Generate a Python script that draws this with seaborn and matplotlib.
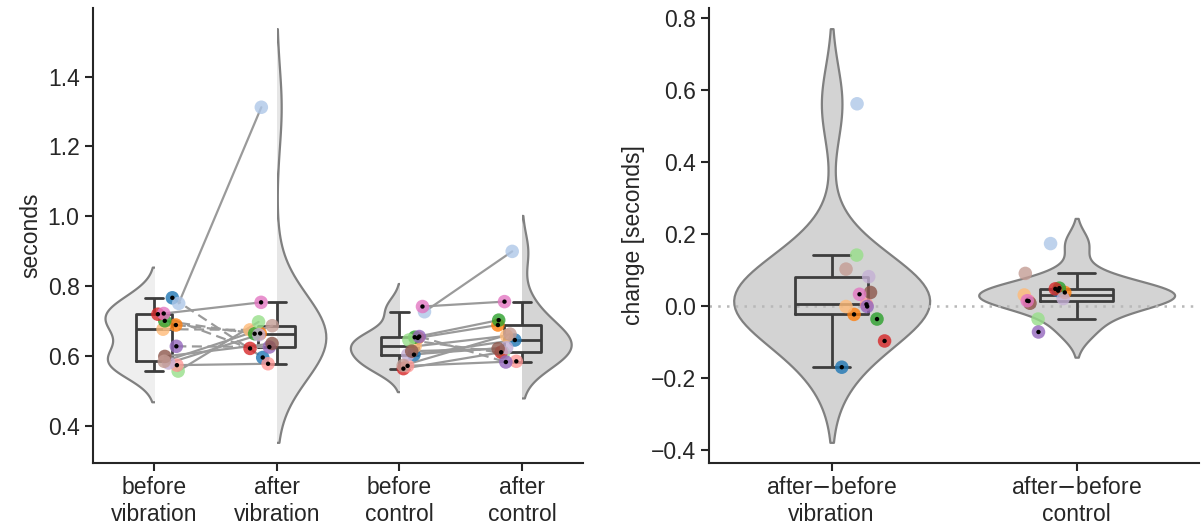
import numpy as np
import pandas as pd
import matplotlib
matplotlib.use("Agg")
import matplotlib.pyplot as plt
from matplotlib.patches import Rectangle
import seaborn as sns

# ---------------- data ----------------
subjects = [f"S{i + 1:02d}" for i in range(13)]
before_vibration = [0.766, 0.750, 0.688, 0.676, 0.700, 0.556, 0.719, 0.573, 0.627, 0.579, 0.598, 0.584, 0.721]
after_vibration = [0.595, 1.312, 0.664, 0.674, 0.663, 0.697, 0.621, 0.577, 0.625, 0.660, 0.635, 0.686, 0.753]
before_control = [0.603, 0.726, 0.651, 0.627, 0.653, 0.645, 0.563, 0.571, 0.655, 0.603, 0.613, 0.572, 0.741]
after_control = [0.645, 0.899, 0.688, 0.657, 0.702, 0.608, 0.610, 0.584, 0.582, 0.623, 0.620, 0.662, 0.755]
marked = [True, False, True, False, True, False, True, True, True, False, False, False, True]

conditions = ["before\nvibration", "after\nvibration", "before\ncontrol", "after\ncontrol"]
diff_labels = ["after$-$before\nvibration", "after$-$before\ncontrol"]

# ---------------- style ----------------
sns.set_theme(style="ticks")
plt.rcParams["font.family"] = ["Liberation Sans", "DejaVu Sans"]
plt.rcParams.update({
    "axes.linewidth": 1.5, "axes.edgecolor": "#262626",
    "xtick.major.width": 1.5, "ytick.major.width": 1.5,
    "xtick.major.size": 6, "ytick.major.size": 6,
    "xtick.labelsize": 16.5, "ytick.labelsize": 16.5, "axes.labelsize": 16.5,
    "xtick.color": "#262626", "ytick.color": "#262626", "text.color": "#262626",
    "axes.labelcolor": "#262626",
})

subj_pal = dict(zip(subjects, sns.color_palette("tab20", 20)[:13]))
violin_fills = dict(zip(conditions, ["#efefef", "#e6e6e6", "#dcdcdc", "#d5d5d5"]))
box_color = "#3d3d3d"
outline = "#808080"
line_gray = "#9a9a9a"

rng = np.random.default_rng(7)

fig = plt.figure(figsize=(12.03, 5.31), dpi=100)
ax1 = fig.add_axes([0.0771, 0.128, 0.4079, 0.857])
ax2 = fig.add_axes([0.5895, 0.128, 0.4073, 0.857])

# ---------------- left panel ----------------
values = [before_vibration, after_vibration, before_control, after_control]
long = pd.DataFrame({
    "subject": subjects * 4,
    "condition": np.repeat(conditions, len(subjects)),
    "seconds": np.concatenate(values),
    "marked": marked * 4,
})
pos = {c: i for i, c in enumerate(conditions)}
side = {conditions[0]: -1, conditions[1]: 1, conditions[2]: -1, conditions[3]: 1}
jit = np.concatenate([rng.uniform(0.03, 0.22, len(subjects)) for _ in conditions])
long["x"] = long["condition"].map(pos) - long["condition"].map(side) * jit

n0 = len(ax1.collections)
sns.violinplot(data=long, x="condition", y="seconds", hue="condition", order=conditions,
               hue_order=conditions, palette=violin_fills, inner=None, density_norm="width",
               width=0.8, linecolor=outline, linewidth=1.6, legend=False, ax=ax1)
for coll in ax1.collections[n0:]:
    verts = np.concatenate([p.vertices for p in coll.get_paths()])
    cx = (verts[:, 0].min() + verts[:, 0].max()) / 2
    k = int(round(cx))
    s = side[conditions[k]]
    x0 = k - 1.0 if s < 0 else k
    rect = Rectangle((x0, -10), 1.0, 20, transform=ax1.transData)
    coll.set_clip_path(rect)

sns.boxplot(data=long, x="condition", y="seconds", order=conditions, width=0.3,
            fill=False, color=box_color, linewidth=2, showfliers=False, ax=ax1)

rows = []
for pair, (b, a, cb, ca) in {"vib": (before_vibration, after_vibration, 0, 1),
                             "ctl": (before_control, after_control, 2, 3)}.items():
    for i, s_ in enumerate(subjects):
        d = "increase" if a[i] >= b[i] else "decrease"
        xb = long.loc[(long.subject == s_) & (long.condition == conditions[cb]), "x"].iloc[0]
        xa = long.loc[(long.subject == s_) & (long.condition == conditions[ca]), "x"].iloc[0]
        rows.append((s_ + pair, xb, b[i], d))
        rows.append((s_ + pair, xa, a[i], d))
lines = pd.DataFrame(rows, columns=["unit", "x", "seconds", "direction"])
for unit, g in lines.groupby("unit"):
    ls = "-" if g["direction"].iloc[0] == "increase" else (0, (4.5, 2.5))
    ax1.plot(g["x"], g["seconds"], color=line_gray, lw=1.6, ls=ls, zorder=2.5)

sns.scatterplot(data=long, x="x", y="seconds", hue="subject", palette=subj_pal, s=95,
                alpha=0.8, edgecolor="none", legend=False, zorder=3, ax=ax1)
sns.scatterplot(data=long[long.marked], x="x", y="seconds", color="black", s=10,
                edgecolor="none", legend=False, zorder=4, ax=ax1)

ax1.set_xlim(-0.5, 3.5)
ax1.set_xticks(range(4))
ax1.set_xticklabels(conditions)
ax1.set_xlabel("")
ax1.set_ylabel("seconds")
ax1.set_yticks([0.4, 0.6, 0.8, 1.0, 1.2, 1.4])
sns.despine(ax=ax1)

# ---------------- right panel ----------------
diff_vib = np.array(after_vibration) - np.array(before_vibration)
diff_ctl = np.array(after_control) - np.array(before_control)
dlong = pd.DataFrame({
    "subject": subjects * 2,
    "condition": np.repeat(diff_labels, len(subjects)),
    "change": np.concatenate([diff_vib, diff_ctl]),
    "marked": marked * 2,
})
dside = {diff_labels[0]: 1, diff_labels[1]: -1}
djit = np.concatenate([rng.uniform(0.03, 0.22, len(subjects)) for _ in diff_labels])
dlong["x"] = dlong["condition"].map({c: i for i, c in enumerate(diff_labels)}) + \
    dlong["condition"].map(dside) * djit

sns.violinplot(data=dlong, x="condition", y="change", order=diff_labels, color="#d3d3d3",
               inner=None, density_norm="width", width=0.8, linecolor=outline,
               linewidth=1.6, saturation=1, ax=ax2)
ax2.axhline(0, color="#b8b8b8", ls=(0, (1, 2.5)), lw=1.8, zorder=1.5)
sns.boxplot(data=dlong, x="condition", y="change", order=diff_labels, width=0.3,
            fill=False, color=box_color, linewidth=2, showfliers=False, ax=ax2)
sns.scatterplot(data=dlong, x="x", y="change", hue="subject", palette=subj_pal, s=95,
                alpha=0.8, edgecolor="none", legend=False, zorder=3, ax=ax2)
sns.scatterplot(data=dlong[dlong.marked], x="x", y="change", color="black", s=10,
                edgecolor="none", legend=False, zorder=4, ax=ax2)

ax2.set_xlim(-0.5, 1.5)
ax2.set_xticks(range(2))
ax2.set_xticklabels(diff_labels)
ax2.set_xlabel("")
ax2.set_ylabel("change [seconds]")
ax2.set_yticks([-0.4, -0.2, 0.0, 0.2, 0.4, 0.6, 0.8])
sns.despine(ax=ax2)

fig.savefig("out.png", dpi=100)
